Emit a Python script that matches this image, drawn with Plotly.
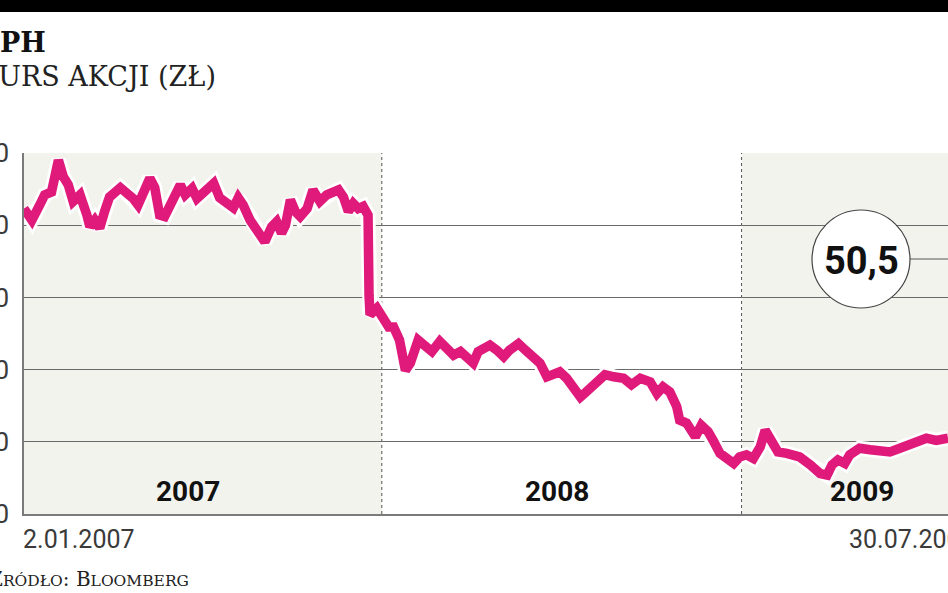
import pandas as pd
import plotly.graph_objects as go

# ---- data (days since 2007-01-02, closing price in PLN) ----
start_date = "2007-01-02"
end_date = "2009-07-30"
day_offsets = [0, 8, 16, 21, 28, 35, 40, 45, 50, 57, 64, 67, 72, 77, 82, 87, 98, 104, 111, 116,
               121, 128, 133, 138, 143, 149, 152, 159, 164, 171, 176, 182, 193, 199, 206, 213, 218, 223, 230, 237,
               245, 252, 257, 262, 266, 271, 276, 281, 288, 294, 301, 308, 315, 320, 325, 330, 335, 340, 345, 350,
               351, 352, 359, 366, 371, 376, 382, 388, 393, 401, 408, 415, 423, 430, 437, 444, 450, 457, 462, 469,
               474, 481, 488, 494, 503, 510, 518, 525, 532, 540, 545, 552, 559, 566, 571, 578, 583, 591, 600, 610,
               618, 627, 637, 644, 650, 657, 664, 667, 674, 683, 689, 696, 701, 708, 715, 722, 728, 735, 742, 749,
               754, 761, 767, 776, 786, 789, 800, 810, 817, 822, 828, 835, 840, 850, 861, 871, 881, 891, 901, 911,
               918, 928, 940]
prices = [82.3, 80.7, 82.8, 84.2, 84.6, 89.0, 86.7, 85.6, 83.3, 84.2, 81.4, 79.8, 80.7, 79.6, 81.9, 83.9, 85.2, 84.6, 83.7, 82.8,
          84.5, 86.5, 85.2, 81.4, 81.2, 82.8, 84.2, 85.6, 84.2, 85.1, 83.7, 84.5, 85.8, 83.8, 83.1, 82.4, 83.8, 82.8, 80.7, 79.3,
          77.7, 79.8, 80.5, 78.9, 80.0, 83.5, 81.9, 81.2, 82.3, 84.9, 83.3, 84.2, 84.6, 84.9, 83.9, 81.9, 83.0, 82.3, 82.6, 81.4,
          70.3, 67.6, 68.5, 66.9, 65.9, 65.9, 64.1, 59.9, 60.9, 64.1, 63.4, 62.5, 63.9, 62.7, 62.0, 62.5, 61.8, 60.9, 62.5, 63.0,
          63.4, 62.7, 61.8, 62.7, 63.6, 62.7, 61.8, 60.9, 59.0, 59.5, 59.7, 58.8, 57.6, 56.2, 56.8, 57.6, 58.1, 59.3, 59.0, 58.8,
          57.9, 58.8, 58.3, 56.7, 57.6, 56.9, 54.9, 53.0, 52.6, 50.7, 52.3, 51.4, 50.2, 48.4, 47.7, 47.0, 47.9, 48.2, 47.7, 49.3,
          51.6, 50.0, 48.6, 48.4, 48.2, 47.9, 46.8, 45.6, 45.4, 46.8, 47.5, 47.0, 48.2, 49.1, 48.9, 48.6, 48.6, 49.1, 49.6, 50.0,
          50.5, 50.2, 50.5]
y_ticks = [40, 50, 60, 70, 80, 90]
year_labels = ["2007", "2008", "2009"]
year_starts = ["2007-01-01", "2008-01-01", "2009-01-01", "2010-01-01"]

dates = pd.Timestamp(start_date) + pd.to_timedelta(day_offsets, unit="D")

PINK = "#e01a7a"
SHADE = "#f3f3ee"
GRID = "#6a6a6a"
SANS = "Roboto, Liberation Sans, sans-serif"
SERIF = "DejaVu Serif, serif"

L, T, B = 24, 153, 514          # plot-area pixel edges
PW, PH = 924, B - T


def px_x(px):
    return (px - L) / PW


def px_y(py):
    return (B - py) / PH


def note(text, x, y, xanchor="center", **font):
    fig.add_annotation(text=text, xref="paper", yref="paper", x=px_x(x), y=px_y(y),
                       xanchor=xanchor, yanchor="middle", showarrow=False, font=font)


fig = go.Figure()
fig.add_trace(go.Scatter(x=dates, y=prices, mode="lines",
                         line=dict(color="white", width=15), hoverinfo="skip", showlegend=False))
fig.add_trace(go.Scatter(x=dates, y=prices, mode="lines",
                         line=dict(color=PINK, width=9.5), showlegend=False))

# alternate year shading
for i in (0, 2):
    fig.add_shape(type="rect", xref="x", yref="paper", x0=year_starts[i], x1=year_starts[i + 1],
                  y0=0, y1=1, fillcolor=SHADE, line_width=0, layer="below")
# dotted year separators
for d in year_starts[1:3]:
    fig.add_shape(type="line", xref="x", yref="paper", x0=d, x1=d, y0=0, y1=1,
                  line=dict(color="#555555", width=1, dash="dot"), layer="between")

# top black band
fig.add_shape(type="rect", xref="paper", yref="paper", x0=px_x(-10), x1=px_x(960),
              y0=px_y(12), y1=px_y(-10), fillcolor="black", line_width=0)

# year labels
for lbl, px in zip(year_labels, [188, 557, 862]):
    note(f"<b>{lbl}</b>", px, 491, family=SANS, size=28, color="#111111")

# date labels under axis
note(dates[0].strftime("%-d.%m.%Y"), 21, 539, "left", family=SANS, size=25, color="#3a3a3a")
note(dates[-1].strftime("%d.%m.%Y"), 847, 539, "left", family=SANS, size=25, color="#3a3a3a")

# last-value bubble
cx, cy, r = 861, 259, 49
fig.add_shape(type="line", xref="paper", yref="paper", x0=px_x(cx + r), x1=1.0,
              y0=px_y(cy), y1=px_y(cy), line=dict(color="#555555", width=1.2))
fig.add_shape(type="circle", xref="paper", yref="paper",
              x0=px_x(cx - r), x1=px_x(cx + r), y0=px_y(cy + r), y1=px_y(cy - r),
              fillcolor="white", line=dict(color="#444444", width=1.2))
note("<b>" + f"{prices[-1]:.1f}".replace(".", ",") + "</b>", cx, cy + 2,
     family=SANS, size=38, color="#111111")

# title / subtitle / source
note("<b>PH</b>", -2, 42, "left", family=SERIF, size=27, color="#111111")
note("KURS AKCJI (ZŁ)", 218, 76, "right", family=SERIF, size=27, color="#222222")
note("Ź<span style='font-size:15.5px'>RÓDŁO</span>: B<span style='font-size:15.5px'>LOOMBERG</span>",
     191, 579, "right", family=SERIF, size=20, color="#222222")

fig.update_layout(
    width=948, height=593,
    margin=dict(l=L, r=0, t=T, b=593 - B, autoexpand=False),
    paper_bgcolor="white", plot_bgcolor="white",
    showlegend=False,
    xaxis=dict(range=[pd.Timestamp(start_date), pd.Timestamp(end_date)], showgrid=False,
               showticklabels=False, ticks="", zeroline=False, automargin=False,
               showline=True, linecolor="#7a7a7a", linewidth=2),
    yaxis=dict(range=[40, 90], tickvals=y_ticks, ticktext=[str(v) for v in y_ticks],
               showgrid=True, gridcolor=GRID, gridwidth=1.2, zeroline=False, automargin=False,
               showline=True, linecolor="#7a7a7a", linewidth=1.5, ticks="",
               ticklabelstandoff=8, tickfont=dict(family=SANS, size=26, color="#3a3a3a")),
)

fig.write_html("out.html")
